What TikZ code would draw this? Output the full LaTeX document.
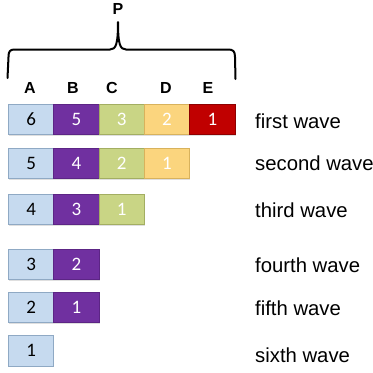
\documentclass[tikz,border=0pt]{standalone}
\usepackage{fontspec}
\setmainfont{Liberation Sans}
\newfontfamily\numfont{Carlito}
\usetikzlibrary{shadows}
\definecolor{cA}{HTML}{C6DAEF}
\definecolor{cAd}{HTML}{8FA9C4}
\definecolor{cB}{HTML}{7030A0}
\definecolor{cBd}{HTML}{5C2585}
\definecolor{cC}{HTML}{C9D585}
\definecolor{cCd}{HTML}{A3AE62}
\definecolor{cD}{HTML}{FBD57E}
\definecolor{cDd}{HTML}{D8B25C}
\definecolor{cE}{HTML}{C00000}
\definecolor{cEd}{HTML}{8E0000}
\tikzset{
  cell/.style={anchor=north west, minimum width=45.3pt, minimum height=30.5pt,
    inner sep=0pt, outer sep=0pt, line width=0.8pt,
    font=\numfont\fontsize{19}{19}\selectfont,
    drop shadow={shadow xshift=0.6pt, shadow yshift=-1.4pt, opacity=0.25}},
  ca/.style={cell, fill=cA, draw=cAd, text=black},
  cb/.style={cell, fill=cB, draw=cBd, text=white},
  cc/.style={cell, fill=cC, draw=cCd, text=white},
  cd/.style={cell, fill=cD, draw=cDd, text=white},
  ce/.style={cell, fill=cE, draw=cEd, text=white},
  wave/.style={anchor=west, inner sep=0pt, font=\fontsize{20.3}{20.3}\selectfont},
  col/.style={inner sep=0pt, font=\bfseries\fontsize{16}{16}\selectfont},
  bracepath/.style={line width=2pt, line cap=round, line join=round}
}
\begin{document}
\begin{tikzpicture}[x=1pt, y=-1pt]
\useasboundingbox (0,0) rectangle (373,373);
% P and brace
\node[col] (P) at (118,9) {P};
\draw[bracepath] (7.5,78) -- (8.5,57) .. controls (8.5,51) and (10,49.5) .. (15,49.5)
  -- (110,49.5) .. controls (116,49.5) and (118,44) .. (118,22)
  .. controls (118,44) and (120,49.5) .. (126,49.5)
  -- (228,49.5) .. controls (233,49.5) and (235,51) .. (235,57) -- (235.5,79);
% column letters
\node[col] (lA) at (30,88) {A};
\node[col] (lB) at (73,88) {B};
\node[col] (lC) at (112,88) {C};
\node[col] (lD) at (166,88) {D};
\node[col] (lE) at (208,88) {E};
% row 1
\node[ca] (r1a) at (8.5,104) {6};
\node[cb] (r1b) at (53.8,104) {5};
\node[cc] (r1c) at (99.1,104) {3};
\node[cd] (r1d) at (144.4,104) {2};
\node[ce] (r1e) at (189.7,104) {1};
% row 2
\node[ca] (r2a) at (8.5,148) {5};
\node[cb] (r2b) at (53.8,148) {4};
\node[cc] (r2c) at (99.1,148) {2};
\node[cd] (r2d) at (144.4,148) {1};
% row 3
\node[ca] (r3a) at (8.5,194) {4};
\node[cb] (r3b) at (53.8,194) {3};
\node[cc] (r3c) at (99.1,194) {1};
% row 4
\node[ca] (r4a) at (8.5,249) {3};
\node[cb] (r4b) at (53.8,249) {2};
% row 5
\node[ca] (r5a) at (8.5,292) {2};
\node[cb] (r5b) at (53.8,292) {1};
% row 6
\node[ca] (r6a) at (8.5,335.5) {1};
% labels
\node[wave] (w1) at (255,121) {first wave};
\node[wave] (w2) at (255,163) {second wave};
\node[wave] (w3) at (255,210) {third wave};
\node[wave] (w4) at (255,265) {fourth wave};
\node[wave] (w5) at (255,308) {fifth wave};
\node[wave] (w6) at (255,355) {sixth wave};
\end{tikzpicture}
\end{document}
